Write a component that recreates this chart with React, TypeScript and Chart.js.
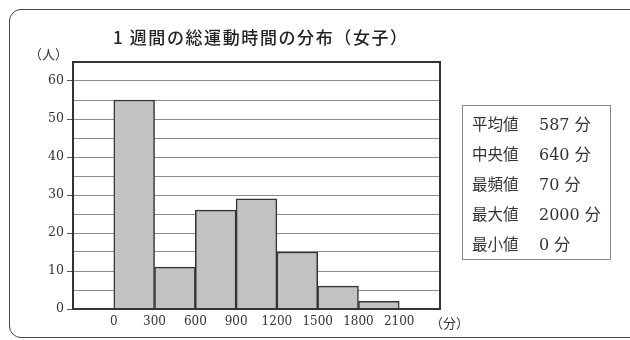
import React, { useEffect, useRef } from "react";
import { Chart, registerables } from "chart.js";

Chart.register(...registerables);

const TITLE = "1 週間の総運動時間の分布（女子）";
const Y_UNIT = "（人）";
const X_UNIT = "（分）";
const BIN_WIDTH = 300;
const binStarts = [0, 300, 600, 900, 1200, 1500, 1800];
const counts = [55, 11, 26, 29, 15, 6, 2];
const xTickValues = [0, 300, 600, 900, 1200, 1500, 1800, 2100];
const statLabels = ["平均値", "中央値", "最頻値", "最大値", "最小値"];
const statValues = ["587 分", "640 分", "70 分", "2000 分", "0 分"];

const SERIF = "'DejaVu Serif', 'Liberation Serif', 'Noto Sans CJK JP', serif";
const SANS = "'Noto Sans CJK JP', 'Noto Sans', sans-serif";

export default function App() {
  const ref = useRef<HTMLCanvasElement | null>(null);

  useEffect(() => {
    document.body.style.margin = "0";
    const canvas = ref.current;
    if (!canvas) return;
    const borderPlugin = {
      id: "plotBorder",
      afterDatasetsDraw(chart: any) {
        const { ctx, chartArea } = chart;
        ctx.save();
        ctx.strokeStyle = "#333";
        ctx.lineWidth = 2;
        ctx.strokeRect(chartArea.left, chartArea.top, chartArea.right - chartArea.left, chartArea.bottom - chartArea.top);
        ctx.restore();
      },
    };
    const chart = new Chart(canvas, {
      type: "bar",
      data: {
        datasets: [
          {
            data: binStarts.map((s, i) => ({ x: s + BIN_WIDTH / 2, y: counts[i] })),
            backgroundColor: "#c2c2c5",
            borderColor: "#333",
            borderWidth: 1.5,
            barPercentage: 1,
            categoryPercentage: 1,
          },
        ],
      },
      options: {
        responsive: false,
        animation: false,
        layout: { padding: { top: 62, right: 190, left: 0, bottom: 0 } },
        plugins: { legend: { display: false }, tooltip: { enabled: false }, title: { display: false } },
        scales: {
          x: {
            type: "linear",
            offset: false,
            min: -300,
            max: 2400,
            afterBuildTicks: (scale: any) => {
              scale.ticks = xTickValues.map((v) => ({ value: v }));
            },
            ticks: {
              autoSkip: false,
              maxRotation: 0,
              padding: 6,
              color: "#333",
              font: { family: SERIF, size: 12 },
              callback: (v: any) => String(v),
            },
            grid: { display: false, drawTicks: false },
            border: { display: true, color: "#333", width: 2 },
            afterFit: (scale: any) => {
              scale.height = 31;
            },
          },
          y: {
            min: 0,
            max: 65,
            ticks: {
              stepSize: 5,
              padding: 3,
              color: "#333",
              font: { family: SERIF, size: 12.5 },
              callback: (v: any) => (Number(v) % 10 === 0 ? String(v) : ""),
            },
            grid: {
              color: "#8c8c8c",
              lineWidth: 1,
              tickLength: 6,
              tickColor: (c: any) => (c.tick && c.tick.value % 10 === 0 ? "#555" : "rgba(0,0,0,0)"),
            },
            border: { display: true, color: "#333", width: 2 },
            afterFit: (scale: any) => {
              scale.width = 73;
            },
          },
        },
      },
      plugins: [borderPlugin],
    } as any);
    return () => chart.destroy();
  }, []);

  return (
    <div style={{ position: "relative", width: 630, height: 340, overflow: "hidden", background: "#fff" }}>
      <div
        style={{
          position: "absolute",
          left: 9,
          top: 9,
          width: 700,
          height: 329,
          border: "1.5px solid #444",
          borderRadius: 12,
          boxSizing: "border-box",
        }}
      />
      <canvas ref={ref} width={630} height={340} style={{ position: "absolute", left: 0, top: 0 }} />
      <div
        style={{
          position: "absolute",
          left: 113,
          top: 25,
          fontFamily: SANS,
          fontSize: 17,
          fontWeight: 500,
          letterSpacing: "1.6px",
          color: "#222",
          lineHeight: "24px",
          whiteSpace: "nowrap",
        }}
      >
        {TITLE}
      </div>
      <div
        style={{
          position: "absolute",
          right: 630 - 68,
          top: 45,
          fontFamily: SANS,
          fontSize: 13,
          color: "#333",
          lineHeight: "18px",
          whiteSpace: "nowrap",
        }}
      >
        {Y_UNIT}
      </div>
      <div
        style={{
          position: "absolute",
          left: 430,
          top: 314,
          fontFamily: SANS,
          fontSize: 13,
          color: "#333",
          lineHeight: "18px",
          whiteSpace: "nowrap",
        }}
      >
        {X_UNIT}
      </div>
      <div
        style={{
          position: "absolute",
          left: 462,
          top: 105,
          width: 149,
          height: 155,
          border: "1px solid #888",
          boxSizing: "border-box",
        }}
      >
        {statLabels.map((l, i) => (
          <div
            key={l}
            style={{
              position: "absolute",
              left: 9,
              top: 4 + i * 30,
              height: 26,
              lineHeight: "26px",
              fontFamily: SERIF,
              fontSize: 16,
              color: "#333",
              whiteSpace: "nowrap",
            }}
          >
            <span style={{ display: "inline-block", width: 67, fontFamily: SANS, fontSize: 15.5 }}>{l}</span>
            <span>{statValues[i]}</span>
          </div>
        ))}
      </div>
    </div>
  );
}
